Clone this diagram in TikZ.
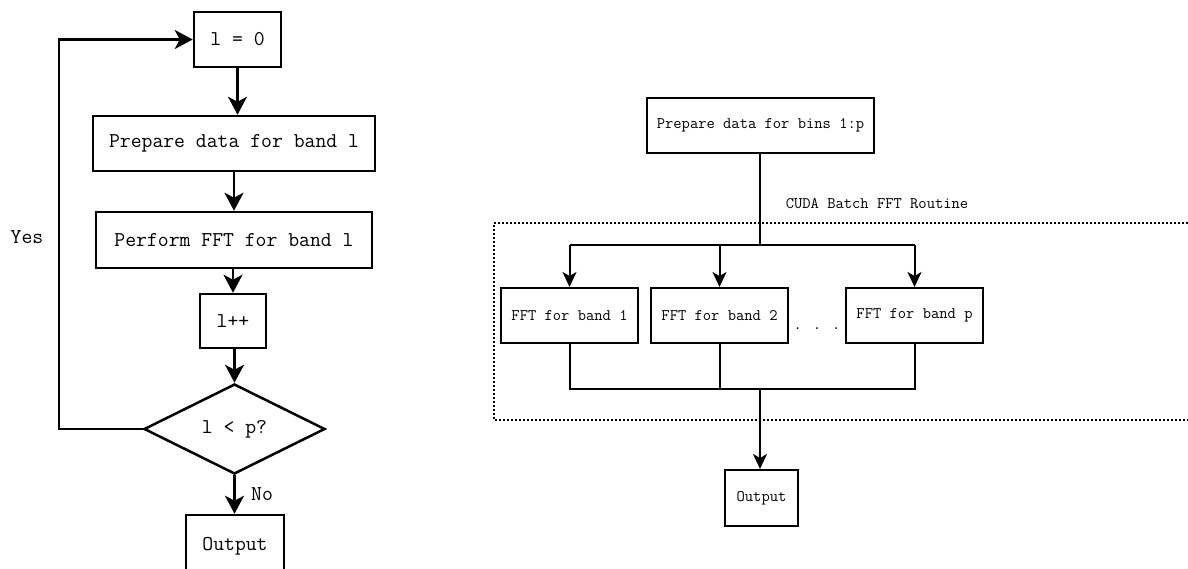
\documentclass[tikz,border=0pt]{standalone}
\usepackage{fontspec}
\usetikzlibrary{shapes.geometric,arrows.meta}
\begin{document}
\begin{tikzpicture}[x=1pt,y=-1pt,
  lbox/.style={draw,line width=2.5pt,rectangle,inner sep=0pt,font=\ttfamily\fontsize{21.1}{23}\selectfont},
  rbox/.style={draw,line width=2pt,rectangle,inner sep=0pt,font=\ttfamily\fontsize{16.1}{18}\selectfont},
  ltxt/.style={inner sep=0pt,font=\ttfamily\fontsize{21.1}{23}\selectfont},
  rtxt/.style={inner sep=0pt,font=\ttfamily\fontsize{16.1}{18}\selectfont},
  larr/.style={line width=2.5pt,-{Stealth[length=18pt,width=19pt,inset=5pt]}},
  lline/.style={line width=2.5pt},
  rarr/.style={line width=2pt,-{Stealth[length=15pt,width=14pt,inset=4pt]}},
  rline/.style={line width=2pt}]
\useasboundingbox (0,0) rectangle (1188,569);
% ---------- left flowchart ----------
\node[lbox,minimum width=87pt,minimum height=55pt] (l0) at (237.5,39.5) {l = 0};
\node[lbox,minimum width=282pt,minimum height=55pt] (prep) at (234,143.5) {Prepare data for band l};
\node[lbox,minimum width=276pt,minimum height=56pt] (fft) at (234,240) {Perform FFT for band l};
\node[lbox,minimum width=66pt,minimum height=54pt] (inc) at (233,321) {l++};
\node[lbox,diamond,minimum width=181pt,minimum height=90pt] (dec) at (234.5,429) {l < p?};
\node[lbox,minimum width=98pt,minimum height=62pt] (out) at (235,546) {Output};
\coordinate (loop) at (59,429);
\draw[larr] (l0) -- (l0 |- prep.north);
\draw[larr] (prep) -- (fft);
\draw[larr] (fft.south -| inc) -- (inc);
\draw[larr] (inc.south -| dec.north) -- (dec);
\draw[larr] (dec) -- (out.north -| dec.south);
\draw[larr] (dec.west) -- (loop) |- (l0.west);
\node[ltxt] (yes) at (27,237) {Yes};
\node[ltxt] (no) at (262,494) {No};
% ---------- right flowchart ----------
\node[rbox,minimum width=227pt,minimum height=55pt] (bins) at (760.5,125.5) {Prepare data for bins 1:p};
\node[rbox,minimum width=137pt,minimum height=55pt] (b1) at (569.5,315.5) {FFT for band 1};
\node[rbox,minimum width=137pt,minimum height=55pt] (b2) at (719.5,315.5) {FFT for band 2};
\node[rbox,minimum width=137pt,minimum height=55pt] (bp) at (914.5,315.5) {FFT for band p};
\node[rbox,minimum width=73pt,minimum height=56pt] (out2) at (761.5,498) {Output};
\node[rtxt,anchor=base] (dots) at (817,329) {. . .};
\node[rtxt] (cuda) at (877,204) {CUDA Batch FFT Routine};
\draw[line width=2pt,dotted] (1200,223) -- (494,223) -- (494,420) -- (1200,420);
\coordinate (split) at (760,245);
\coordinate (merge) at (760,389);
\draw[rline] (bins.south -| split) -- (split);
\draw[rline] (b1.north |- split) -- (bp.north |- split);
\draw[rarr] (b1.north |- split) -- (b1.north);
\draw[rarr] (b2.north |- split) -- (b2.north);
\draw[rarr] (bp.north |- split) -- (bp.north);
\draw[rline] (b1.south) -- (b1.south |- merge) -- (bp.south |- merge) -- (bp.south);
\draw[rline] (b2.south) -- (b2.south |- merge);
\draw[rarr] (merge) -- (out2.north -| merge);
\end{tikzpicture}
\end{document}
